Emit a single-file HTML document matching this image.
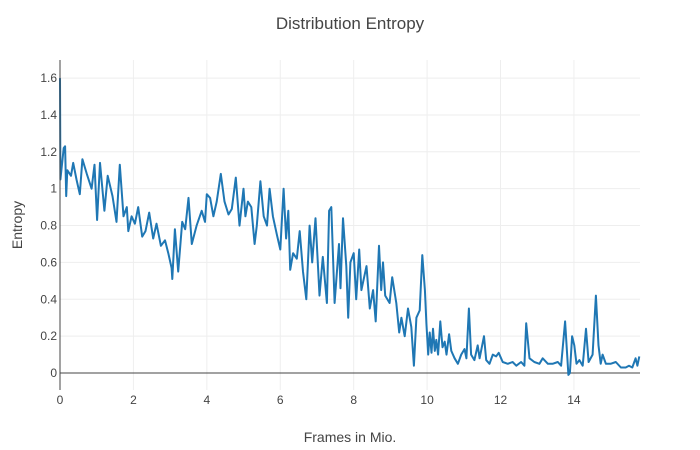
<!DOCTYPE html>
<html><head><meta charset="utf-8">
<style>
html,body{margin:0;padding:0;background:#fff;}
svg{display:block;font-family:"Liberation Sans",sans-serif;}
</style></head>
<body>
<svg id="chart" width="700" height="450">
<text x="350" y="29" text-anchor="middle" font-size="17" fill="#444">Distribution Entropy</text>
<g id="grid"></g>
<g id="xticks"></g>
<g id="yticks"></g>
<path id="line" fill="none" stroke="#1f77b4" stroke-width="2" stroke-linejoin="round"></path>
<line x1="60" y1="60" x2="60" y2="390" stroke="#444" stroke-width="1"></line>
<text x="350" y="442" text-anchor="middle" font-size="14" fill="#444">Frames in Mio.</text>
<text x="22" y="225" text-anchor="middle" font-size="14" fill="#444" transform="rotate(-90 22 225)">Entropy</text>
</svg>
<script>
const xTicks = [0,2,4,6,8,10,12,14];
const yTicks = [0,0.2,0.4,0.6,0.8,1,1.2,1.4,1.6];
const yTickLabels = ["0","0.2","0.4","0.6","0.8","1","1.2","1.4","1.6"];
const frames = [0,0.01,0.1,0.14,0.17,0.2,0.3,0.36,0.45,0.54,0.61,0.73,0.86,0.94,1.01,1.09,1.21,1.3,1.43,1.54,1.63,1.73,1.82,1.86,1.95,2.04,2.13,2.24,2.33,2.43,2.54,2.63,2.75,2.86,2.95,3.04,3.06,3.13,3.22,3.33,3.41,3.5,3.59,3.72,3.86,3.95,4.0,4.09,4.18,4.27,4.38,4.48,4.59,4.68,4.79,4.89,5.0,5.05,5.12,5.21,5.3,5.36,5.46,5.55,5.64,5.71,5.8,5.91,6.0,6.09,6.16,6.22,6.27,6.35,6.45,6.53,6.62,6.71,6.8,6.87,6.96,7.07,7.16,7.27,7.33,7.39,7.48,7.6,7.64,7.71,7.8,7.85,7.91,8.0,8.07,8.15,8.21,8.35,8.44,8.53,8.6,8.69,8.75,8.8,8.86,8.98,9.05,9.16,9.24,9.3,9.39,9.48,9.57,9.64,9.71,9.8,9.87,9.94,9.98,10.03,10.07,10.12,10.16,10.21,10.25,10.3,10.36,10.42,10.48,10.53,10.6,10.66,10.75,10.84,10.93,11.02,11.07,11.14,11.2,11.29,11.38,11.43,11.55,11.61,11.7,11.79,11.88,11.95,12.06,12.2,12.33,12.43,12.56,12.65,12.7,12.79,12.92,13.06,13.15,13.29,13.42,13.56,13.65,13.76,13.85,13.89,13.95,14.01,14.07,14.15,14.24,14.33,14.4,14.51,14.6,14.67,14.73,14.78,14.87,15.0,15.14,15.28,15.41,15.5,15.59,15.68,15.73,15.78];
const entropy = [1.6,1.05,1.22,1.23,0.96,1.1,1.07,1.14,1.05,0.97,1.16,1.08,1.0,1.13,0.83,1.14,0.88,1.07,0.96,0.82,1.13,0.85,0.9,0.77,0.85,0.81,0.9,0.74,0.77,0.87,0.73,0.81,0.69,0.72,0.65,0.57,0.51,0.78,0.55,0.82,0.78,0.95,0.7,0.8,0.88,0.82,0.97,0.95,0.85,0.93,1.08,0.93,0.86,0.89,1.06,0.8,1.0,0.85,0.93,0.9,0.7,0.8,1.04,0.85,0.8,1.0,0.85,0.75,0.67,1.0,0.73,0.88,0.56,0.65,0.62,0.77,0.55,0.4,0.8,0.6,0.84,0.42,0.63,0.38,0.88,0.9,0.38,0.7,0.46,0.84,0.58,0.3,0.6,0.65,0.4,0.67,0.45,0.58,0.35,0.45,0.28,0.69,0.45,0.6,0.42,0.38,0.52,0.38,0.22,0.3,0.2,0.35,0.25,0.04,0.3,0.34,0.64,0.45,0.27,0.1,0.22,0.11,0.24,0.12,0.18,0.1,0.28,0.14,0.17,0.1,0.21,0.12,0.08,0.05,0.1,0.13,0.08,0.35,0.1,0.07,0.15,0.08,0.2,0.07,0.05,0.1,0.09,0.11,0.06,0.05,0.06,0.04,0.06,0.04,0.27,0.08,0.06,0.05,0.08,0.05,0.05,0.06,0.04,0.28,-0.01,0.0,0.2,0.15,0.05,0.07,0.04,0.24,0.06,0.1,0.42,0.15,0.05,0.1,0.05,0.05,0.06,0.03,0.03,0.04,0.03,0.08,0.04,0.09];

const X0=60,X1=640,Y0=390,Y1=60;
const xMin=0,xMax=15.8,yMin=-0.092,yMax=1.698;
const sx=v=>X0+(v-xMin)/(xMax-xMin)*(X1-X0);
const sy=v=>Y0-(v-yMin)/(yMax-yMin)*(Y0-Y1);
const NS="http://www.w3.org/2000/svg";
const grid=document.getElementById('grid'),xt=document.getElementById('xticks'),yt=document.getElementById('yticks');
xTicks.forEach(t=>{
  const l=document.createElementNS(NS,'line');
  l.setAttribute('x1',sx(t));l.setAttribute('x2',sx(t));l.setAttribute('y1',Y1);l.setAttribute('y2',Y0);
  l.setAttribute('stroke','#eee');
  
  
  grid.appendChild(l);
  const tx=document.createElementNS(NS,'text');
  tx.setAttribute('x',sx(t));tx.setAttribute('y',Y0+14);tx.setAttribute('text-anchor','middle');
  tx.setAttribute('font-size','12');tx.setAttribute('fill','#444');tx.textContent=t;
  
  
  xt.appendChild(tx);
});
yTicks.forEach((t,i)=>{
  const l=document.createElementNS(NS,'line');
  l.setAttribute('x1',X0);l.setAttribute('x2',X1);l.setAttribute('y1',sy(t));l.setAttribute('y2',sy(t));
  l.setAttribute('stroke',t===0?'#444':'#eee');
  
  
  grid.appendChild(l);
  const tx=document.createElementNS(NS,'text');
  tx.setAttribute('x',X0-3);tx.setAttribute('y',sy(t)+4);tx.setAttribute('text-anchor','end');
  tx.setAttribute('font-size','12');tx.setAttribute('fill','#444');tx.textContent=yTickLabels[i];
  
  
  yt.appendChild(tx);
});
document.getElementById('line').setAttribute('d',frames.map((f,i)=>(i?'L':'M')+sx(f).toFixed(1)+','+sy(entropy[i]).toFixed(1)).join(''));
</script>
</body></html>
